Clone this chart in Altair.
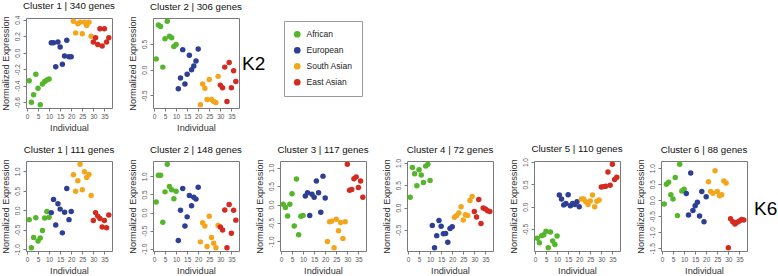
import altair as alt
import pandas as pd

FONT = "Liberation Sans"

individuals = list(range(1, 38))
population = ["African"] * 10 + ["European"] * 10 + ["South Asian"] * 9 + ["East Asian"] * 8
pop_order = ["African", "European", "South Asian", "East Asian"]
pop_colors = ["#55b52b", "#2d3f95", "#f4a61b", "#d42a20"]
x_ticks = [0, 5, 10, 15, 20, 25, 30, 35]

k2_titles = ["Cluster 1 | 340 genes", "Cluster 2 | 306 genes"]
k6_titles = ["Cluster 1 | 111 genes", "Cluster 2 | 148 genes", "Cluster 3 | 117 genes",
             "Cluster 4 | 72 genes", "Cluster 5 | 110 genes", "Cluster 6 | 88 genes"]
row_tags = ["K2", "K6"]

k2_c1 = [-0.34, -0.60, -0.51, -0.26, -0.43, -0.63, -0.38, -0.35, -0.33, -0.32,
         0.12, 0.12, -0.17, 0.13, 0.07, -0.14, -0.04, 0.15, -0.05, -0.05,
         0.38, 0.24, 0.35, 0.37, 0.23, 0.37, 0.33, 0.37, 0.20,
         0.13, 0.18, 0.10, 0.29, 0.08, 0.29, 0.13, 0.18]
k2_c2 = [0.21, 0.87, 0.84, 0.05, 0.60, 0.94, 0.65, 0.62, 0.45, 0.49,
         -0.37, -0.16, 0.39, -0.28, -0.09, 0.28, 0.00, 0.07, 0.17, 0.40,
         -0.68, -0.28, -0.36, -0.58, -0.19, -0.58, -0.62, -0.64, -0.13,
         -0.30, -0.35, 0.05, -0.62, 0.14, -0.35, -0.02, -0.23]
k6_c1 = [-0.24, -0.96, -0.70, -0.19, -0.79, -0.71, -0.52, -0.20, -0.03, -0.18,
         -0.06, 0.28, -0.38, 0.17, 0.03, -0.58, -0.05, 0.56, -0.24, -0.03,
         0.91, 0.49, 0.76, 1.18, 0.53, 0.99, 0.84, 0.92, 0.38,
         -0.26, -0.06, -0.15, -0.21, -0.43, -0.26, -0.45, -0.12]
k6_c2 = [0.29, 1.03, 1.03, -0.27, 0.57, 1.33, 0.72, 0.63, 0.38, 0.59,
         -0.77, 0.06, 0.66, -0.37, -0.12, 0.47, 0.19, 0.42, 0.37, 0.70,
         -0.81, -0.28, -0.37, -0.94, -0.10, -0.69, -0.85, -0.97, -0.36,
         -0.40, -0.48, 0.07, -0.97, 0.22, -0.57, 0.06, -0.21]
k6_c3 = [0.01, -0.08, -0.31, 0.01, 0.29, -0.58, 0.69, -0.82, -0.32, -0.30,
         0.23, 0.32, -0.30, 0.28, 0.20, 0.64, 0.32, -0.21, 0.77, 0.18,
         -1.00, -0.47, -0.45, -1.17, -0.40, -0.71, -0.49, -0.92, -0.47,
         1.09, 0.39, 0.41, 0.70, 0.75, 0.46, 0.64, 0.20]
k6_c4 = [0.23, 0.90, 0.76, 0.49, 0.85, 0.73, 0.56, 0.93, 0.97, 0.61,
         -0.40, -0.90, -0.63, -0.29, -0.42, -0.59, -0.58, -0.78, -0.47, -0.43,
         -0.22, -0.18, -0.12, 0.02, -0.28, -0.16, -0.18, 0.16, 0.25,
         -0.09, -0.21, 0.18, -0.36, -0.01, -0.03, -0.07, -0.09]
k6_c5 = [-0.71, -0.81, -0.65, -0.63, -0.55, -0.92, -0.57, -0.77, -0.85, -0.66,
         0.26, 0.17, 0.04, 0.07, 0.27, 0.02, 0.07, 0.05, 0.11, 0.00,
         0.17, 0.17, 0.11, 0.05, 0.13, 0.26, 0.00, 0.12, 0.15,
         0.44, 0.45, 0.46, 0.78, 0.48, 0.95, 0.61, 0.66]
k6_c6 = [-0.12, 0.50, 0.56, 0.17, 0.04, 0.71, -0.48, 1.12, 0.29, 0.34,
         0.21, -0.46, 0.85, -0.32, -0.17, -0.06, -0.49, 0.27, -0.67, 0.11,
         0.58, 0.27, 0.22, 0.92, 0.27, 0.14, 0.17, 0.60, 0.54,
         -1.48, -0.58, -0.67, -0.74, -0.69, -0.65, -0.60, -0.62]

y_ticks_k2 = [[-0.6, -0.4, -0.2, 0.0, 0.2, 0.4], [-0.5, 0.0, 0.5]]
y_ticks_k6 = [[-1.0, -0.5, 0.0, 0.5, 1.0], [-1.0, -0.5, 0.0, 0.5, 1.0], [-1.0, -0.5, 0.0, 0.5, 1.0],
              [-0.5, 0.0, 0.5, 1.0], [-0.5, 0.0, 0.5, 1.0], [-1.5, -1.0, -0.5, 0.0, 0.5, 1.0]]

PW, PH = 86, 90

legend = alt.Legend(orient="none", legendX=258, legendY=3, title=None,
                    strokeColor="#9a9a9a", fillColor="white", padding=9,
                    rowPadding=7, symbolType="circle", symbolSize=45,
                    symbolStrokeWidth=0, labelFont=FONT, labelFontSize=8.5,
                    labelColor="#222222", labelOffset=5)

LABEL_EXPR = "(datum.value < 0 ? '-' : '') + format(abs(datum.value), '.1f')"


def r_range(vals):
    lo, hi = min(vals), max(vals)
    pad = (hi - lo) * 0.04
    return [lo - pad, hi + pad]


def panel(title, values, yticks, tag=None, tag_x=0, tag_y=0):
    df = pd.DataFrame({"Individual": individuals, "Expression": values,
                       "Population": population})
    pts = alt.Chart(df).mark_circle(size=30, opacity=1).encode(
        x=alt.X("Individual:Q", title="Individual",
                scale=alt.Scale(domain=r_range(individuals), nice=False, zero=False),
                axis=alt.Axis(values=x_ticks, format="d")),
        y=alt.Y("Expression:Q", title="Normalized Expression",
                scale=alt.Scale(domain=r_range(values), nice=False, zero=False),
                axis=alt.Axis(values=yticks, labelExpr=LABEL_EXPR)),
        color=alt.Color("Population:N",
                        scale=alt.Scale(domain=pop_order, range=pop_colors),
                        legend=legend),
    )
    layers = [pts]
    if tag:
        txt = alt.Chart(pd.DataFrame({"tag": [tag]})).mark_text(
            fontSize=19, align="left", baseline="middle", font=FONT, color="black"
        ).encode(text="tag:N", x=alt.value(tag_x), y=alt.value(tag_y))
        layers.append(txt)
    return alt.layer(*layers).properties(width=PW, height=PH, title=title)


def blank():
    return alt.Chart(pd.DataFrame({"v": [0]})).mark_point(opacity=0).encode(
        x=alt.value(0), y=alt.value(0)
    ).properties(width=PW, height=PH, view={"stroke": "transparent"})


cells = [
    panel(k2_titles[0], k2_c1, y_ticks_k2[0]),
    panel(k2_titles[1], k2_c2, y_ticks_k2[1], tag=row_tags[0], tag_x=89, tag_y=46),
    blank(), blank(), blank(), blank(),
    panel(k6_titles[0], k6_c1, y_ticks_k6[0]),
    panel(k6_titles[1], k6_c2, y_ticks_k6[1]),
    panel(k6_titles[2], k6_c3, y_ticks_k6[2]),
    panel(k6_titles[3], k6_c4, y_ticks_k6[3]),
    panel(k6_titles[4], k6_c5, y_ticks_k6[4]),
    panel(k6_titles[5], k6_c6, y_ticks_k6[5], tag=row_tags[1], tag_x=93, tag_y=48),
]

chart = alt.concat(*cells, columns=6, spacing={"row": 53, "column": 41}, bounds="flush").properties(
    padding={"left": 0, "top": 0, "right": 0, "bottom": 0},
    background="white",
).configure_view(
    stroke="#7a7a7a", strokeWidth=1
).configure_axis(
    grid=False, domain=False, tickColor="#7a7a7a", tickSize=3, tickWidth=1,
    labelFont=FONT, labelFontSize=6.5, labelColor="#555555", labelFlush=False,
    labelOverlap=False, titleFont=FONT, titleFontSize=9.2, titleFontWeight="normal",
    titleColor="#333333"
).configure_axisX(
    labelPadding=2, titlePadding=4
).configure_axisY(
    labelAngle=270, labelAlign="center", labelBaseline="bottom", labelPadding=3,
    titlePadding=4
).configure_title(
    font=FONT, fontSize=9.7, fontWeight="normal", color="#111111", offset=4
)

chart.save("out.html", embed_options={"renderer": "svg", "actions": False})
